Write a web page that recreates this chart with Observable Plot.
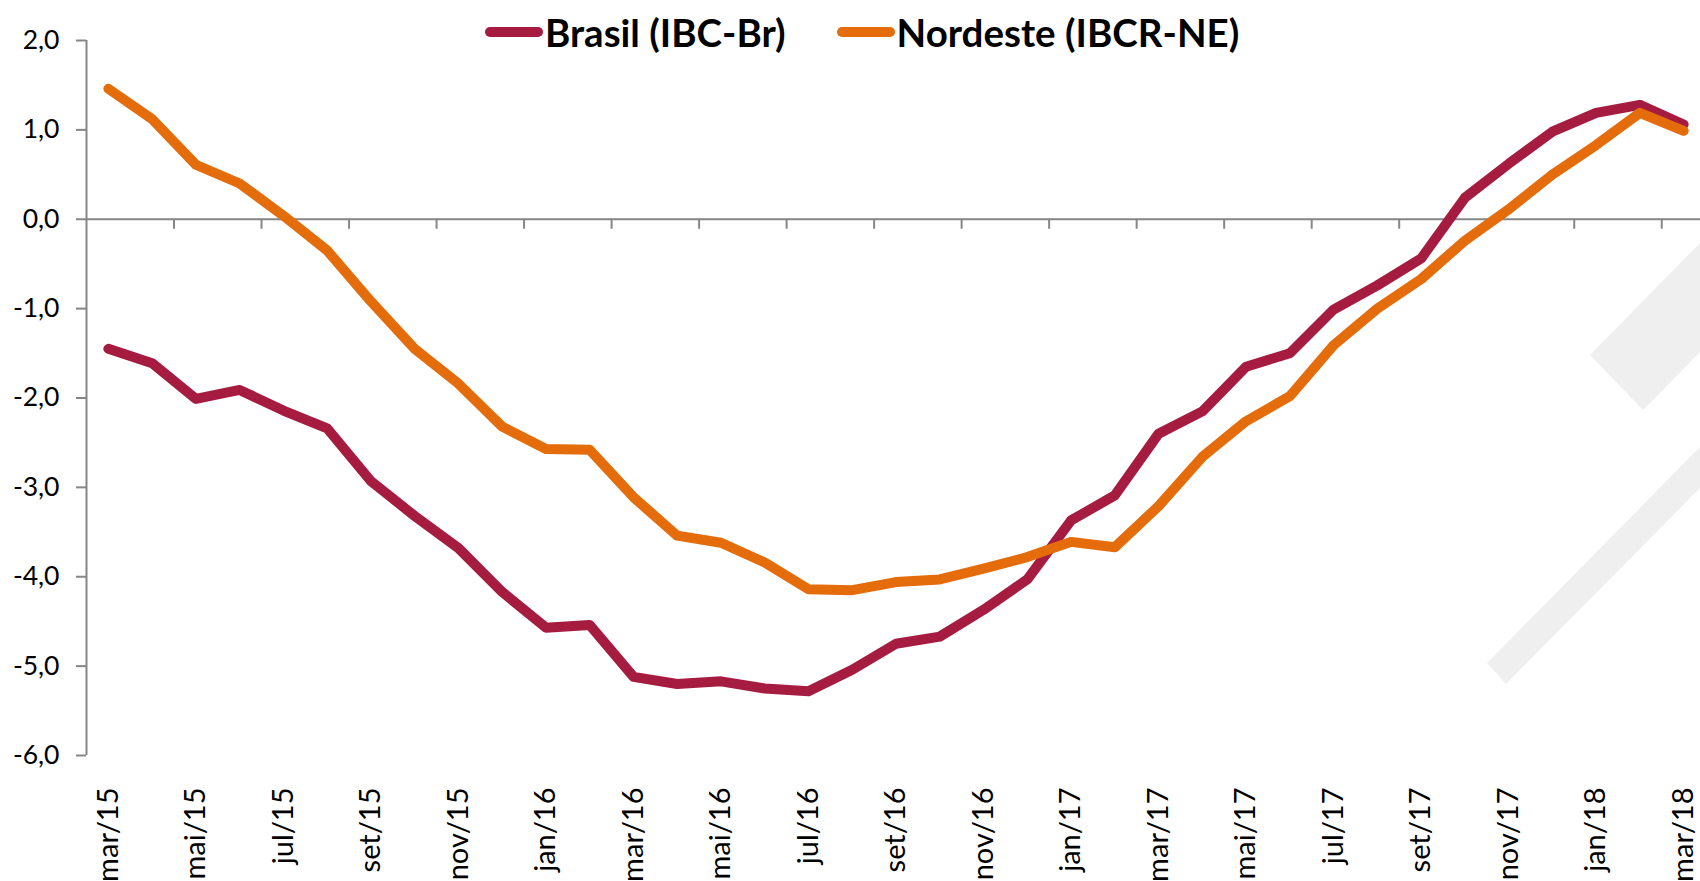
<!DOCTYPE html>
<html>
<head>
<meta charset="utf-8">
<script src="https://cdn.jsdelivr.net/npm/d3@7"></script>
<script src="https://cdn.jsdelivr.net/npm/@observablehq/plot@0.6"></script>
<style>
  html, body { margin: 0; padding: 0; background: #fff; overflow: hidden; }
  #wrap { position: relative; width: 1700px; height: 881px; }
  #wm { position: absolute; left: 0; top: 0; }
  #chart { position: absolute; left: 0; top: 0; }
  #legend { position: absolute; left: 485px; top: 12px; display: flex; align-items: center;
            font-family: Lato, "Open Sans", sans-serif; font-weight: bold; font-size: 38.5px; color: #000; line-height: 40px; }
  .item { display: flex; align-items: center; }
  .item svg { display: block; margin-right: 2px; }
  .item + .item { margin-left: 51px; }
</style>
</head>
<body>
<div id="wrap">
  <svg id="wm" width="1700" height="881">
    <polygon points="1700,243 1590,355 1643,410 1700,352" fill="#efefef"></polygon>
    <polygon points="1487,663 1700,447 1700,488 1506,684" fill="#efefef"></polygon>
  </svg>
  <div id="chart"></div>
  <div id="legend"></div>
</div>
<script>
const months = ["mar/15","abr/15","mai/15","jun/15","jul/15","ago/15","set/15","out/15","nov/15","dez/15",
  "jan/16","fev/16","mar/16","abr/16","mai/16","jun/16","jul/16","ago/16","set/16","out/16","nov/16","dez/16",
  "jan/17","fev/17","mar/17","abr/17","mai/17","jun/17","jul/17","ago/17","set/17","out/17","nov/17","dez/17",
  "jan/18","fev/18","mar/18"];
const brasil = [-1.45,-1.61,-2.01,-1.91,-2.14,-2.34,-2.93,-3.32,-3.68,-4.17,
  -4.57,-4.54,-5.12,-5.20,-5.17,-5.25,-5.28,-5.04,-4.75,-4.67,-4.37,-4.03,
  -3.37,-3.09,-2.40,-2.15,-1.65,-1.50,-1.01,-0.74,-0.44,0.24,0.62,0.98,
  1.19,1.28,1.06];
const nordeste = [1.46,1.12,0.61,0.40,0.04,-0.35,-0.92,-1.45,-1.84,-2.32,
  -2.57,-2.58,-3.11,-3.54,-3.62,-3.84,-4.14,-4.15,-4.06,-4.03,-3.91,-3.78,
  -3.61,-3.67,-3.21,-2.66,-2.26,-1.98,-1.41,-1.00,-0.67,-0.24,0.11,0.50,
  0.83,1.19,0.99];
const yTicks = [2,1,0,-1,-2,-3,-4,-5,-6];
const seriesNames = ["Brasil (IBC-Br)", "Nordeste (IBCR-NE)"];
const seriesColors = ["#a61b40", "#e46c0a"];

const rows = months.map((m, i) => ({pos: i + 0.5, month: m, brasil: brasil[i], nordeste: nordeste[i]}));
const labelPos = months.map((m, i) => i).filter(i => i % 2 === 0).map(i => i + 0.5);
const tickBounds = months.map((m, i) => i).filter(i => i % 2 === 0 && i > 0);
const fmt = d => d.toFixed(1).replace(".", ",");
const axisColor = "#868686";

const chart = Plot.plot({
  width: 1700,
  height: 881,
  marginTop: 40,
  marginBottom: 126,
  marginLeft: 86,
  marginRight: 0,
  style: {background: "transparent", fontFamily: "Lato, 'Open Sans', sans-serif", fontSize: "26px", maxWidth: "none", overflow: "hidden"},
  x: {type: "linear", domain: [0, months.length], range: [86, 1705], axis: null, label: null},
  y: {domain: [-6, 2], axis: null, label: null},
  marks: [
    Plot.ruleY([0], {stroke: axisColor, strokeWidth: 2}),
    Plot.ruleX(tickBounds, {x: d => d, y1: 0, y2: 0, insetBottom: -10, stroke: axisColor, strokeWidth: 2}),
    Plot.ruleX([0], {y1: -6, y2: 2, stroke: axisColor, strokeWidth: 2}),
    Plot.axisY(yTicks, {anchor: "left", label: null, tickSize: 10, tickPadding: 17, stroke: axisColor, strokeWidth: 2,
      fill: "#000", tickFormat: fmt, fontSize: 26.5}),
    Plot.axisX(labelPos, {anchor: "bottom", label: null, tickSize: 0, tickPadding: 32, tickRotate: -90, textAnchor: "end",
      fill: "#000", fontSize: 29, tickFormat: d => months[Math.round(d - 0.5)]}),
    Plot.line(rows, {x: "pos", y: "brasil", stroke: seriesColors[0], strokeWidth: 10, strokeLinecap: "round", strokeLinejoin: "round"}),
    Plot.line(rows, {x: "pos", y: "nordeste", stroke: seriesColors[1], strokeWidth: 10, strokeLinecap: "round", strokeLinejoin: "round"})
  ]
});
document.getElementById("chart").appendChild(chart);

const legend = document.getElementById("legend");
seriesNames.forEach((name, i) => {
  const item = document.createElement("div");
  item.className = "item";
  item.innerHTML = `<svg width="58" height="14"><line x1="5" y1="7" x2="53" y2="7" stroke="${seriesColors[i]}" stroke-width="10" stroke-linecap="round"/></svg><span>${name}</span>`;
  legend.appendChild(item);
});
</script>
</body>
</html>
